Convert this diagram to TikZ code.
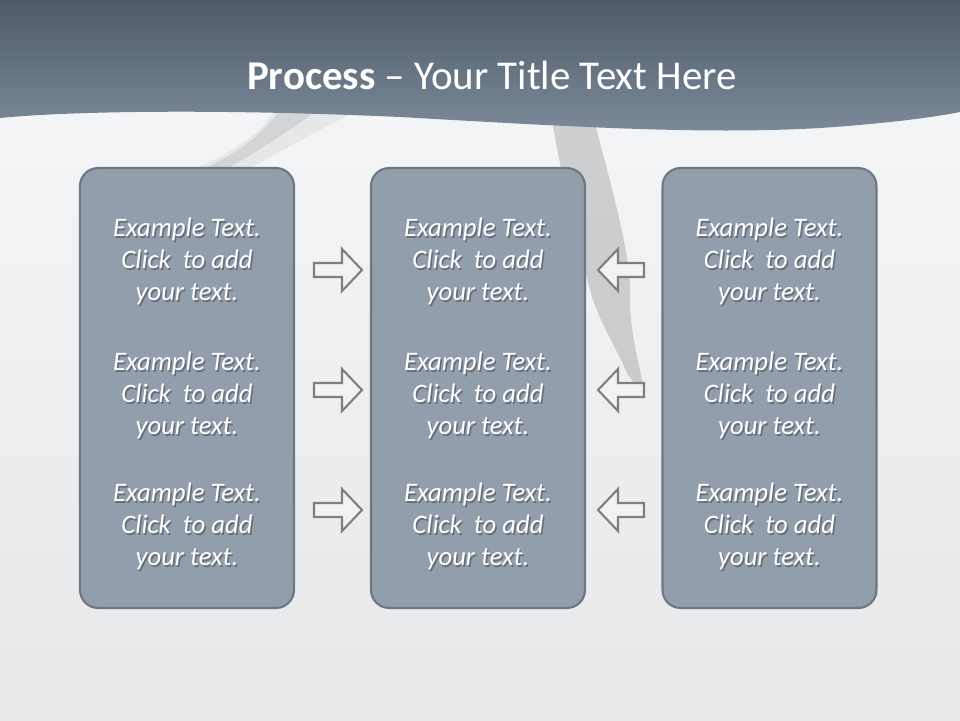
\documentclass[tikz,border=0pt]{standalone}
\usepackage{fontspec}
\setmainfont{Carlito}
\usetikzlibrary{positioning}
\definecolor{BandTop}{HTML}{4E5A67}
\definecolor{BandBottom}{HTML}{7D8B9B}
\definecolor{BoxFill}{HTML}{939EAC}
\definecolor{BoxLine}{HTML}{6E7783}
\definecolor{ArrowFill}{HTML}{F2F2F4}
\definecolor{ArrowLine}{HTML}{7F7F7F}
\definecolor{BackTop}{HTML}{F6F7F8}
\definecolor{BackBottom}{HTML}{E7E8EA}

\begin{document}
\begin{tikzpicture}[
x=0.02cm, y=-0.02cm,
MyBoxes/.style={draw=BoxLine,fill=BoxFill,line width=1.2pt,rounded corners=0.36cm,minimum width=4.28cm,minimum height=8.8cm},
MyTexts/.style={text=white,align=center,font=\fontsize{15.2}{18.2}\selectfont\itshape},
MyShadows/.style={MyTexts,text=black,text opacity=0.3},
MyArrows/.style={draw=ArrowLine,fill=ArrowFill,line width=1.2pt,line join=miter},
RightArrow/.pic={\draw[MyArrows] (-24,-7) -- (4,-7) -- (4,-21) -- (24,0) -- (4,21) -- (4,7) -- (-24,7) -- cycle;},
LeftArrow/.pic={\draw[MyArrows] (23,-7) -- (-3,-7) -- (-3,-21) -- (-23,0) -- (-3,21) -- (-3,7) -- (23,7) -- cycle;}
]
\shade[top color=BackTop,bottom color=BackBottom] (0,0) rectangle (960,720);
\useasboundingbox (0,0) rectangle (960,720);

% shadows of the branches
\fill[black,opacity=0.05] (195,168) .. controls (240,150) and (262,130) .. (275,110) -- (360,110) .. controls (320,128) and (285,150) .. (250,168) -- cycle;
\fill[black,opacity=0.08] (205,168) .. controls (245,150) and (265,130) .. (280,110) -- (318,110) .. controls (290,130) and (260,150) .. (228,168) -- cycle;
\fill[black,opacity=0.15] (552,120) .. controls (560,170) and (575,230) .. (590,290) .. controls (598,320) and (615,345) .. (628,375) -- (640,390) -- (643,385) .. controls (638,360) and (630,330) .. (630,300) .. controls (632,260) and (615,200) .. (594,120) -- cycle;

% title band
\shade[top color=BandTop,bottom color=BandBottom] (0,0) -- (960,0) -- (960,112) .. controls (930,118) and (880,124) .. (820,128) .. controls (700,135) and (560,126) .. (400,117) .. controls (200,108) and (60,112) .. (0,118) -- cycle;
\node[text=white,font=\fontsize{23.3}{28}\selectfont] (title) at (492,75) {\textbf{Process} -- Your Title Text Here};

\foreach \X/\name in {187/left,478/middle,769.5/right}
  \node[MyBoxes] (\name) at (\X,388) {};

\foreach \X/\name in {187/left,478/middle,769.5/right}
  \foreach \Y/\row in {261/1,395/2,526/3}{
    \node[MyShadows] at (\X+1.5,\Y+2) {Example Text.\\Click~ to add\\your text.};
    \node[MyTexts] (\name-\row) at (\X,\Y) {Example Text.\\Click~ to add\\your text.};
  }

\foreach \Y in {270,390,510}{
  \pic at (338,\Y) {RightArrow};
  \pic at (621,\Y) {LeftArrow};
}
\end{tikzpicture}
\end{document}
